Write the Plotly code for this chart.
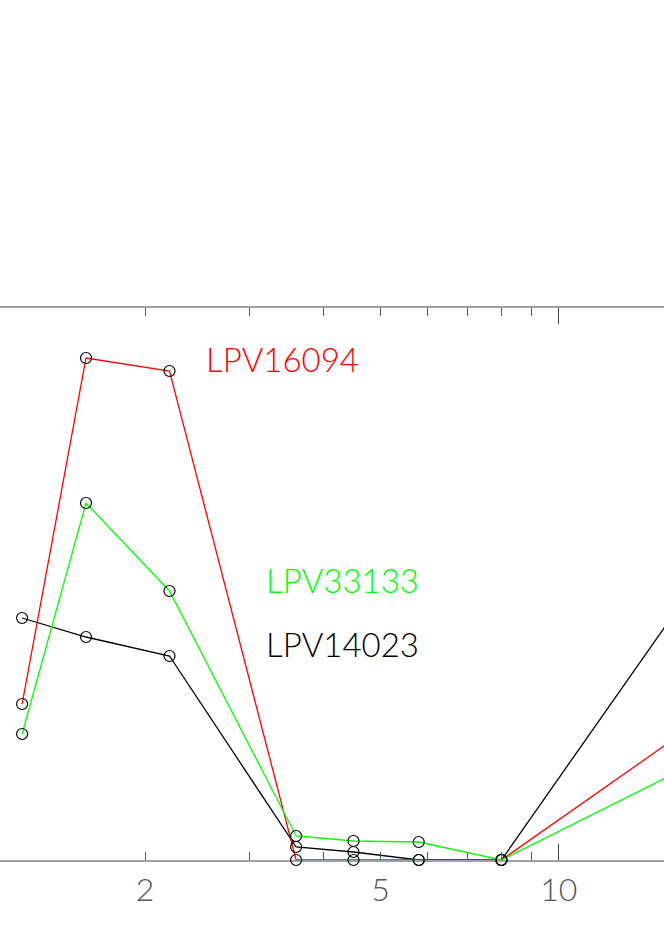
import plotly.graph_objects as go
import numpy as np

# wavelengths (micron): J, H, K, IRAC 3.6/4.5/5.8/8.0, MIPS 24
wavelength = [1.24, 1.59, 2.2, 3.6, 4.5, 5.8, 8.0, 24.0]

lpv14023 = [2.42, 2.23, 2.04, 0.13, 0.08, 0.0, 0.0, 4.03]
lpv16094 = [1.56, 5.02, 4.89, 0.0, 0.0, 0.0, 0.0, 1.98]
lpv33133 = [1.26, 3.57, 2.69, 0.24, 0.19, 0.18, 0.0, 1.41]

names = ['LPV14023', 'LPV16094', 'LPV33133']
series = [lpv14023, lpv16094, lpv33133]
colors = ['#000000', '#ff0000', '#00ff00']

label_ticks = [2, 5, 10]
major_ticks = [10]
minor_ticks = [1, 2, 3, 4, 5, 6, 7, 8, 9, 20]

xrange_log = [np.log10(2) - 145 / 592, np.log10(2) + 519 / 592]

fig = go.Figure()

for name, vals, col in zip(names, series, colors):
    fig.add_trace(go.Scatter(
        x=wavelength, y=vals, mode='lines', name=name, cliponaxis=False,
        line=dict(color=col, width=1.3), showlegend=False))

for name, vals in zip(names, series):
    fig.add_trace(go.Scatter(
        x=wavelength, y=vals, mode='markers', showlegend=False, cliponaxis=False,
        marker=dict(symbol='circle-open', size=11, color='#000000',
                    line=dict(width=1.2))))

# tick-only axis (long major tick at 10, short minor ticks), mirrored on top
fig.add_trace(go.Scatter(x=wavelength, y=lpv14023, xaxis='x2', mode='markers',
                         marker=dict(opacity=0), hoverinfo='skip', showlegend=False))

label_font = dict(family='Lato', size=33, weight=300)
fig.add_annotation(x=0.307, y=0.908, xref='paper', yref='paper', text='LPV16094',
                   showarrow=False, xanchor='left', yanchor='middle',
                   font=dict(color='#ff0000', **label_font))
fig.add_annotation(x=0.397, y=0.508, xref='paper', yref='paper', text='LPV33133',
                   showarrow=False, xanchor='left', yanchor='middle',
                   font=dict(color='#00ff00', **label_font))
fig.add_annotation(x=0.397, y=0.391, xref='paper', yref='paper', text='LPV14023',
                   showarrow=False, xanchor='left', yanchor='middle',
                   font=dict(color='#000000', **label_font))

fig.update_layout(
    width=664, height=932,
    margin=dict(l=0, r=0, t=308, b=72),
    paper_bgcolor='white', plot_bgcolor='white',
    xaxis=dict(
        type='log', range=xrange_log, layer='below traces',
        tickmode='array', tickvals=label_ticks, ticktext=[str(v) for v in label_ticks],
        ticks='', showgrid=False, zeroline=False,
        showline=True, linecolor='#a0a0a0', linewidth=1.5, mirror=True,
        tickfont=dict(family='Lato', size=32, weight=300, color='#555555'),
        ticklabelstandoff=1,
    ),
    xaxis2=dict(
        type='log', range=xrange_log, overlaying='x', anchor='y', side='bottom',
        tickmode='array', tickvals=major_ticks, showticklabels=False,
        ticks='inside', ticklen=16, tickwidth=1, tickcolor='#444444',
        minor=dict(tickmode='array', tickvals=minor_ticks, ticks='inside',
                   ticklen=8, tickwidth=1, tickcolor='#555555'),
        mirror='ticks', showline=False, showgrid=False, zeroline=False,
    ),
    yaxis=dict(range=[0, 5.52], showgrid=False, zeroline=False,
               showline=False, showticklabels=False, ticks=''),
)

fig.write_html('out.html', config={'displayModeBar': False},
               post_script="document.body.style.margin='0';")
